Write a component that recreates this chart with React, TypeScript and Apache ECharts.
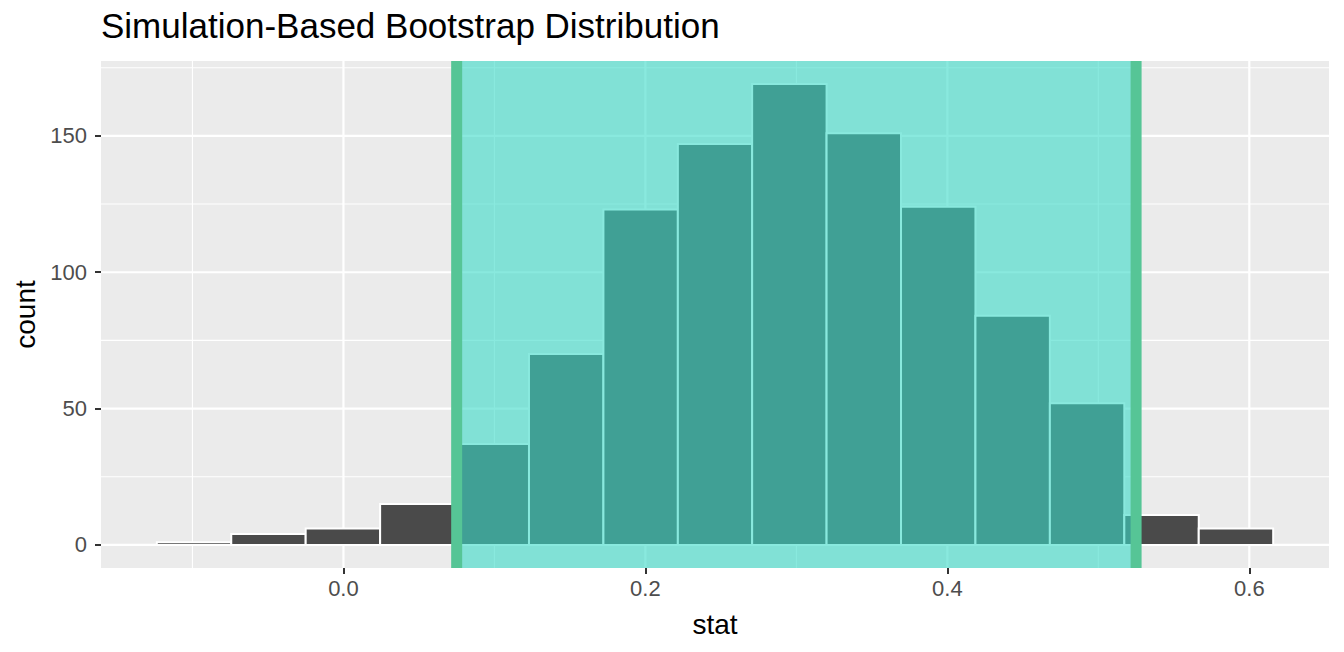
import React, { useEffect, useRef } from "react";
import * as echarts from "echarts";

// ---- data ----
const BIN_EDGES = [
  -0.1236, -0.0743, -0.025, 0.0243, 0.0736, 0.1229, 0.1722, 0.2215, 0.2707,
  0.32, 0.3693, 0.4186, 0.4679, 0.5172, 0.5665, 0.6158,
];
const COUNTS = [1, 4, 6, 15, 37, 70, 123, 147, 169, 151, 124, 84, 52, 11, 6];
const CI_BOUNDS = [0.075, 0.525];
const X_TICKS = [0, 0.2, 0.4, 0.6];
const X_MINOR = [-0.1, 0.1, 0.3, 0.5];
const Y_TICKS = [0, 50, 100, 150];
const Y_MINOR = [25, 75, 125, 175];
const TITLE = "Simulation-Based Bootstrap Distribution";
const X_NAME = "stat";
const Y_NAME = "count";

const FONT = "'Liberation Sans', Arial, Helvetica, sans-serif";

export default function App() {
  const ref = useRef<HTMLDivElement>(null);

  useEffect(() => {
    document.body.style.margin = "0";
    if (!ref.current) return;
    const chart = echarts.init(ref.current, undefined, { renderer: "svg" });

    const xLo = BIN_EDGES[0];
    const xHi = BIN_EDGES[BIN_EDGES.length - 1];
    const xPad = (xHi - xLo) * 0.05;
    const yMax = Math.max(...COUNTS);
    const yPad = yMax * 0.05;

    const barData = COUNTS.map((c, i) => [BIN_EDGES[i], BIN_EDGES[i + 1], c]);
    const gridData: number[][] = [
      ...X_MINOR.map((v) => [0, v, 0]),
      ...Y_MINOR.map((v) => [1, v, 0]),
      ...X_TICKS.map((v) => [0, v, 1]),
      ...Y_TICKS.map((v) => [1, v, 1]),
    ];

    chart.setOption({
      animation: false,
      textStyle: { fontFamily: FONT },
      title: {
        text: TITLE,
        left: 101,
        top: 8,
        padding: 0,
        textStyle: { fontFamily: FONT, fontSize: 35, fontWeight: "normal", color: "#000" },
      },
      grid: {
        left: 101,
        right: 15,
        top: 61,
        bottom: 84,
        show: true,
        backgroundColor: "#EBEBEB",
        borderWidth: 0,
      },
      xAxis: {
        type: "value",
        min: xLo - xPad,
        max: xHi + xPad,
        axisLine: { show: false, onZero: false },
        splitLine: { show: false },
        axisTick: {
          show: true,
          customValues: X_TICKS,
          length: 6,
          lineStyle: { color: "#333333", width: 2 },
        },
        axisLabel: {
          customValues: X_TICKS,
          formatter: (v: number) => v.toFixed(1),
          color: "#4D4D4D",
          fontSize: 22,
          fontFamily: FONT,
          margin: 9,
        },
        name: X_NAME,
        nameLocation: "middle",
        nameGap: 42,
        nameTextStyle: { color: "#000", fontSize: 28, fontFamily: FONT },
      },
      yAxis: {
        type: "value",
        min: -yPad,
        max: yMax + yPad,
        axisLine: { show: false, onZero: false },
        splitLine: { show: false },
        axisTick: {
          show: true,
          customValues: Y_TICKS,
          length: 6,
          lineStyle: { color: "#333333", width: 2 },
        },
        axisLabel: {
          customValues: Y_TICKS,
          color: "#4D4D4D",
          fontSize: 22,
          fontFamily: FONT,
          margin: 14,
        },
        name: Y_NAME,
        nameLocation: "middle",
        nameRotate: 90,
        nameGap: 58,
        nameTextStyle: { color: "#000", fontSize: 28, fontFamily: FONT },
      },
      series: [
        {
          type: "custom",
          name: "grid",
          silent: true,
          z: 1,
          data: gridData,
          renderItem: (params: any, api: any) => {
            const cs = params.coordSys;
            const axis = api.value(0);
            const v = api.value(1);
            const major = api.value(2) === 1;
            const lw = major ? 2.2 : 1.1;
            if (axis === 0) {
              const px = api.coord([v, 0])[0];
              return {
                type: "line",
                shape: { x1: px, y1: cs.y, x2: px, y2: cs.y + cs.height },
                style: { stroke: "#FFFFFF", lineWidth: lw },
              };
            }
            const py = api.coord([0, v])[1];
            return {
              type: "line",
              shape: { x1: cs.x, y1: py, x2: cs.x + cs.width, y2: py },
              style: { stroke: "#FFFFFF", lineWidth: lw },
            };
          },
        },
        {
          type: "custom",
          name: "bars",
          silent: true,
          z: 2,
          data: barData,
          encode: { x: [0, 1], y: 2 },
          renderItem: (params: any, api: any) => {
            const p0 = api.coord([api.value(0), api.value(2)]);
            const p1 = api.coord([api.value(1), 0]);
            return {
              type: "rect",
              shape: { x: p0[0], y: p0[1], width: p1[0] - p0[0], height: p1[1] - p0[1] },
              style: { fill: "#4A4A4A", stroke: "#FFFFFF", lineWidth: 2 },
            };
          },
        },
        {
          type: "custom",
          name: "ci",
          silent: true,
          z: 3,
          data: [CI_BOUNDS],
          renderItem: (params: any, api: any) => {
            const cs = params.coordSys;
            const a = api.coord([api.value(0), 0])[0];
            const b = api.coord([api.value(1), 0])[0];
            return {
              type: "group",
              children: [
                {
                  type: "rect",
                  shape: { x: a, y: cs.y, width: b - a, height: cs.height },
                  style: { fill: "rgba(58,218,200,0.6)" },
                },
                {
                  type: "line",
                  shape: { x1: a, y1: cs.y, x2: a, y2: cs.y + cs.height },
                  style: { stroke: "#56C596", lineWidth: 11 },
                },
                {
                  type: "line",
                  shape: { x1: b, y1: cs.y, x2: b, y2: cs.y + cs.height },
                  style: { stroke: "#56C596", lineWidth: 11 },
                },
              ],
            };
          },
        },
      ],
    });

    return () => chart.dispose();
  }, []);

  return <div ref={ref} style={{ width: 1344, height: 652 }} />;
}
